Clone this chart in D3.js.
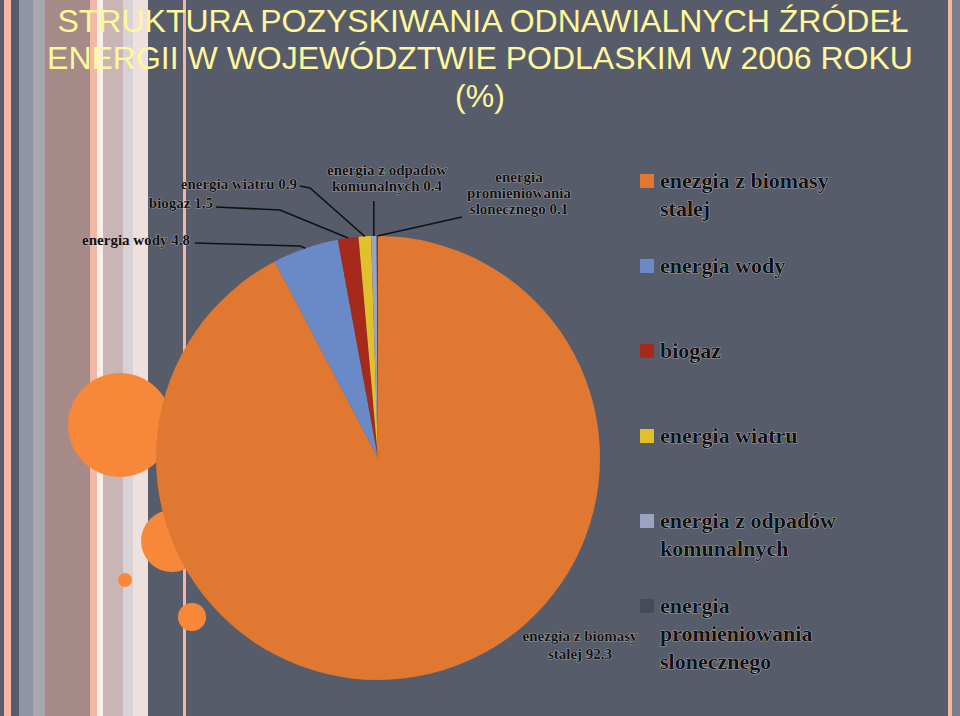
<!DOCTYPE html><html><head><meta charset="utf-8"><script src="https://cdn.jsdelivr.net/npm/d3@7"></script>
<style>body{margin:0;background:#575c6b}</style></head><body><svg id="c" width="960" height="716"></svg><script>
const categories=["enezgia z biomasy stalej","energia wody","biogaz","energia wiatru","energia z odpadów komunalnych","energia promieniowania slonecznego"];
const values=[92.3,4.8,1.5,0.9,0.4,0.1];
const colors=["#e07832","#6a89c7","#a52a1c","#e1c02c","#9aa3c0","#484b55"];
const legendLines=[["enezgia z biomasy","stalej"],["energia wody"],["biogaz"],["energia wiatru"],["energia z odpadów","komunalnych"],["energia","promieniowania","slonecznego"]];
const svg=d3.select("#c");
svg.append("rect").attr("width",960).attr("height",716).attr("fill","#575c6b");
const stripes=[[4,7,"#f4b6a0"],[19,14,"#8f95a6"],[33,12,"#a8a6b0"],[45,45,"#a58a88"],[90,7,"#f1b9a6"],[97,6,"#fbeee8"],[103,20,"#c9b6b4"],[123,10,"#d8d2d6"],[133,15,"#eee0dc"],[183,3,"#f4b6a0"],[948,4,"#f4b6a0"],[952,8,"#7a7f8c"]];
stripes.forEach(s=>svg.append("rect").attr("x",s[0]).attr("y",0).attr("width",s[1]).attr("height",716).attr("fill",s[2]));
[[120,425,52],[172,541,31],[125,580,7],[192,617,14]].forEach(c=>svg.append("circle").attr("cx",c[0]).attr("cy",c[1]).attr("r",c[2]).attr("fill","#f7883a"));
const t=svg.append("text").attr("fill","#fff799").attr("font-family","Liberation Sans, Arial").attr("font-size",32).attr("text-anchor","middle");
[["STRUKTURA POZYSKIWANIA ODNAWIALNYCH ŹRÓDEŁ",483,32],["ENERGII W WOJEWÓDZTWIE PODLASKIM W 2006 ROKU",480,69],["(%)",480,107]].forEach(l=>t.append("tspan").attr("x",l[1]).attr("y",l[2]).text(l[0]));
const cx=378,cy=458,r=222;
const pie=d3.pie().sort(null).value(d=>d)(values);
const arc=d3.arc().innerRadius(0).outerRadius(r);
const g=svg.append("g").attr("transform",`translate(${cx},${cy})`);
g.selectAll("path").data(pie).join("path").attr("d",arc).attr("fill",(d,i)=>colors[i]);
function txt(lines,x,y,anchor,lh){const e=svg.append("text").attr("text-anchor",anchor).attr("fill","#111").attr("stroke","#d8d8d8").attr("stroke-width",0.6).attr("paint-order","stroke").attr("font-family","Liberation Serif").attr("font-weight","bold").attr("font-size",15);lines.forEach((l,i)=>e.append("tspan").attr("x",x).attr("y",y+i*lh).text(l));}
const labels=[[1,["energia wody  4.8"],190,245,"end",[[195,243],[300,246]]],[2,["biogaz 1.5"],213,208,"end",[[216,207],[280,210]]],[3,["energia wiatru 0.9"],297,189,"end",[[300,186],[310,188]]],[4,["energia z odpadów","komunalnych 0.4"],387,175,"middle",[]],[5,["energia","promieniowania","slonecznego 0.1"],519,182,"middle",[[462,217]]]];
labels.forEach(([i,lines,x,y,a,pts])=>{const p=pie[i];const ang=p.startAngle+(p.endAngle-p.startAngle)/2;const ex=cx+r*Math.sin(ang),ey=cy-r*Math.cos(ang);
 let path=[];
 if(i==4){path=[[ex,201],[ex,ey]];} else path=pts.concat([[ex,ey]]);
 svg.append("path").attr("d",d3.line()(path)).attr("stroke","#111").attr("stroke-width",1.5).attr("fill","none");
 txt(lines,x,y,a,16);});
txt(["enezgia z biomasy","stalej 92.3"],580,641,"middle",18);
const lg=svg.append("g");
legendLines.forEach((ls,i)=>{const y=182+i*85;lg.append("rect").attr("x",640).attr("y",y-8).attr("width",14).attr("height",14).attr("fill",colors[i]);
 const e=lg.append("text").attr("fill","#111").attr("stroke","#ddd").attr("stroke-width",0.7).attr("paint-order","stroke").attr("font-family","Liberation Serif").attr("font-weight","bold").attr("font-size",22);
 ls.forEach((l,j)=>e.append("tspan").attr("x",660).attr("y",y+6+j*28).text(l));});
</script></body></html>
